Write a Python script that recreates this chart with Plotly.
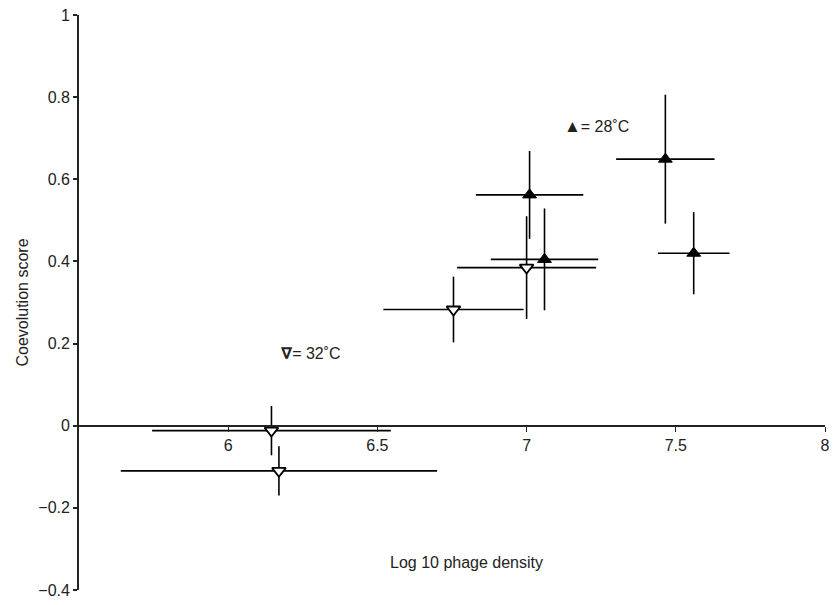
import plotly.graph_objects as go

# 28 °C (filled up-triangles)
x28 = [7.01, 7.06, 7.465, 7.56]
y28 = [0.562, 0.405, 0.649, 0.42]
ex28 = [0.18, 0.18, 0.165, 0.12]
ey28 = [0.107, 0.124, 0.157, 0.10]

# 32 °C (open down-triangles)
x32 = [6.145, 6.17, 6.755, 7.0]
y32 = [-0.012, -0.11, 0.283, 0.385]
ex32 = [0.40, 0.53, 0.235, 0.233]
ey32 = [0.06, 0.06, 0.08, 0.125]

xticks = [6, 6.5, 7, 7.5, 8]
xticktext = ["6", "6.5", "7", "7.5", "8"]
yticks = [1, 0.8, 0.6, 0.4, 0.2, 0, -0.2, -0.4]
yticktext = ["1", "0.8", "0.6", "0.4", "0.2", "0", "\u22120.2", "\u22120.4"]

xrange_ = [5.5, 8]
yrange_ = [-0.4, 1]

FONT = "Liberation Sans, Arial, sans-serif"
TXT = "#222"

fig = go.Figure()

fig.add_trace(go.Scatter(
    x=x32, y=y32, mode="markers",
    marker=dict(symbol="triangle-down", size=12, color="white",
                line=dict(color="black", width=1.8)),
    error_x=dict(type="data", array=ex32, color="black", thickness=1.6, width=0),
    error_y=dict(type="data", array=ey32, color="black", thickness=1.6, width=0),
    showlegend=False,
))
fig.add_trace(go.Scatter(
    x=x28, y=y28, mode="markers",
    marker=dict(symbol="triangle-up", size=12, color="black",
                line=dict(color="black", width=1)),
    error_x=dict(type="data", array=ex28, color="black", thickness=1.6, width=0),
    error_y=dict(type="data", array=ey28, color="black", thickness=1.6, width=0),
    showlegend=False,
))

zero_pos = (0 - yrange_[0]) / (yrange_[1] - yrange_[0])

fig.update_layout(
    width=836, height=605,
    margin=dict(l=79, r=6, t=15, b=13),
    paper_bgcolor="white", plot_bgcolor="white",
    font=dict(family=FONT, size=16, color=TXT),
    xaxis=dict(
        range=xrange_, anchor="free", position=zero_pos,
        tickvals=xticks, ticktext=xticktext,
        showline=True, linecolor=TXT, linewidth=1.8,
        ticks="outside", ticklen=5, tickwidth=1, tickcolor=TXT,
        showgrid=False, zeroline=False,
    ),
    yaxis=dict(
        range=yrange_, tickvals=yticks, ticktext=yticktext,
        showline=True, linecolor=TXT, linewidth=1.8,
        ticks="outside", ticklen=4, tickwidth=1.5, tickcolor=TXT,
        showgrid=False, zeroline=False,
        title=dict(text="Coevolution score", standoff=6, font=dict(size=16)),
    ),
)

# x-axis title placed near bottom of plot area
fig.add_annotation(x=0.52, y=0.047, xref="paper", yref="paper",
                   text="Log 10 phage density", showarrow=False,
                   xanchor="center", yanchor="middle", font=dict(size=16))
fig.add_annotation(x=7.12, y=0.729, xref="x", yref="y",
                   text="<span style='font-size:17px'>\u25B2</span>= 28\u02DAC",
                   showarrow=False,
                   xanchor="left", yanchor="middle", font=dict(size=16))
fig.add_annotation(x=6.17, y=0.176, xref="x", yref="y",
                   text="<b><span style='font-family:DejaVu Sans'>\u2207</span></b>= 32\u02DAC",
                   showarrow=False,
                   xanchor="left", yanchor="middle", font=dict(size=16))

fig.write_html("out.html")
